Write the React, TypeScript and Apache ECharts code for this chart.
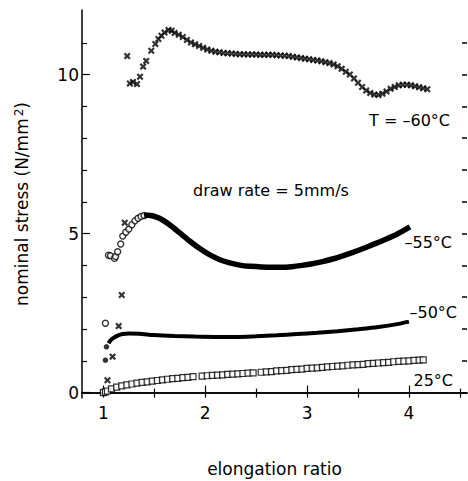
import React, { useEffect, useRef } from "react";
import * as echarts from "echarts";

// ---- axis ranges & ticks ----
const X_MIN = 0.79;
const X_MAX = 4.57;
const Y_MIN = -0.17;
const Y_MAX = 12.03;
const xMajor = [1, 2, 3, 4];
const xMinor = [1.5, 2.5, 3.5, 4.5];
const xTop = [1, 1.5, 2, 2.5, 3, 3.5, 4, 4.5];
const yMajor = [0, 5, 10];
const yMinor = [1, 2, 3, 4, 6, 7, 8, 9, 11];
const yAll = [0, 1, 2, 3, 4, 5, 6, 7, 8, 9, 10, 11];

// ---- T = -60 °C (crosses) ----
const t60X = [1.04, 1.09, 1.15, 1.18, 1.21, 1.234, 1.26, 1.29, 1.33, 1.36, 1.39, 1.42, 1.47, 1.51, 1.54, 1.57, 1.6, 1.64, 1.67,
  1.7, 1.74, 1.78, 1.82, 1.86, 1.9, 1.94, 1.98, 2.02, 2.06, 2.1, 2.14, 2.18, 2.22, 2.26, 2.3, 2.34, 2.38, 2.42, 2.46, 2.5,
  2.54, 2.58, 2.62, 2.66, 2.7, 2.74, 2.78, 2.82, 2.86, 2.9, 2.94, 2.98, 3.02, 3.06, 3.1, 3.14, 3.18, 3.22, 3.26, 3.3,
  3.34, 3.38, 3.42, 3.46, 3.5, 3.54, 3.58, 3.62, 3.66, 3.7, 3.74, 3.78, 3.82, 3.86, 3.9, 3.94, 3.98, 4.02, 4.06, 4.1,
  4.14, 4.18];
const t60Y = [0.39, 1.13, 2.09, 3.07, 5.34, 10.58, 9.72, 9.77, 9.7, 9.93, 10.25, 10.43, 10.75, 10.96, 11.12, 11.22, 11.32, 11.4, 11.38,
  11.31, 11.25, 11.18, 11.09, 11.01, 10.95, 10.9, 10.84, 10.79, 10.75, 10.72, 10.7, 10.68, 10.67, 10.66, 10.65, 10.64, 10.64, 10.63, 10.63, 10.63,
  10.62, 10.62, 10.62, 10.62, 10.61, 10.6, 10.59, 10.58, 10.56, 10.54, 10.52, 10.5, 10.48, 10.46, 10.44, 10.42, 10.39, 10.36, 10.32, 10.26,
  10.18, 10.09, 10.0, 9.88, 9.74, 9.61, 9.5, 9.42, 9.37, 9.36, 9.4, 9.47, 9.55, 9.61, 9.66, 9.68, 9.68, 9.66, 9.63, 9.6,
  9.57, 9.54];

// ---- -55 °C (open circles, sparse start + dense band) ----
const t55CircX = [1.02, 1.05, 1.07, 1.11, 1.12, 1.14, 1.17, 1.19, 1.22, 1.25, 1.28, 1.31, 1.34, 1.37, 1.4];
const t55CircY = [2.18, 4.32, 4.3, 4.22, 4.28, 4.43, 4.67, 4.92, 5.04, 5.14, 5.28, 5.4, 5.48, 5.54, 5.57];
const t55BandX = [1.4, 1.44, 1.48, 1.55, 1.65, 1.75, 1.85, 1.95, 2.05, 2.15, 2.25, 2.35, 2.45, 2.55, 2.65, 2.75, 2.85, 2.95,
  3.05, 3.15, 3.25, 3.35, 3.45, 3.55, 3.65, 3.75, 3.85, 3.95, 4.01];
const t55BandY = [5.57, 5.58, 5.56, 5.48, 5.28, 5.02, 4.76, 4.52, 4.32, 4.17, 4.07, 4.0, 3.97, 3.95, 3.94, 3.94, 3.96, 4.0,
  4.05, 4.12, 4.2, 4.3, 4.41, 4.53, 4.66, 4.79, 4.93, 5.1, 5.21];

// ---- -50 °C (filled dots, sparse start + dense band) ----
const t50DotX = [1.02, 1.03];
const t50DotY = [1.02, 1.44];
const t50BandX = [1.05, 1.07, 1.1, 1.14, 1.19, 1.25, 1.35, 1.5, 1.7, 1.9, 2.1, 2.3, 2.5, 2.7, 2.9, 3.1, 3.3, 3.5, 3.7, 3.9, 4.0];
const t50BandY = [1.55, 1.64, 1.72, 1.79, 1.84, 1.86, 1.85, 1.81, 1.78, 1.76, 1.75, 1.75, 1.77, 1.8, 1.84, 1.88, 1.93, 1.99, 2.06, 2.16, 2.23];

// ---- 25 °C (open squares) ----
const t25X = [1.0, 1.02, 1.04, 1.08, 1.13, 1.18, 1.23, 1.28, 1.33, 1.38, 1.43, 1.48, 1.53, 1.58, 1.63, 1.68, 1.73, 1.78, 1.83, 1.88,
  1.97, 2.02, 2.07, 2.12, 2.17, 2.22, 2.27, 2.32, 2.37, 2.42, 2.47, 2.55, 2.6, 2.65, 2.7, 2.75, 2.8, 2.85, 2.9, 2.95,
  3.0, 3.05, 3.1, 3.15, 3.2, 3.25, 3.3, 3.35, 3.4, 3.45, 3.5, 3.55, 3.6, 3.65, 3.7, 3.75, 3.8, 3.85, 3.9, 3.95,
  4.0, 4.05, 4.1, 4.14];
const t25Y = [0.0, 0.02, 0.05, 0.12, 0.17, 0.21, 0.24, 0.27, 0.3, 0.32, 0.34, 0.36, 0.38, 0.4, 0.42, 0.44, 0.45, 0.47, 0.48, 0.5,
  0.52, 0.53, 0.54, 0.55, 0.56, 0.57, 0.58, 0.59, 0.6, 0.61, 0.62, 0.64, 0.65, 0.66, 0.68, 0.69, 0.7, 0.72, 0.73, 0.74,
  0.76, 0.77, 0.78, 0.79, 0.81, 0.82, 0.83, 0.84, 0.86, 0.87, 0.88, 0.89, 0.91, 0.92, 0.93, 0.94, 0.95, 0.97, 0.98, 0.99,
  1.0, 1.01, 1.02, 1.03];

// ---- texts ----
const xTitle = "elongation ratio";
const yTitleMain = "nominal stress (N/mm";
const yTitleSup = "2";
const labels = ["T = –60°C", "–55°C", "–50°C", "25°C"];
const rateText = "draw rate = 5mm/s";

const FONT = "DejaVu Sans";
const pairs = (xs: number[], ys: number[]) => xs.map((x, i) => [x, ys[i]]);
const crossPath = "path://M0,2.2L2.2,0L5,2.8L7.8,0L10,2.2L7.2,5L10,7.8L7.8,10L5,7.2L2.2,10L0,7.8L2.8,5Z";

export default function App() {
  const ref = useRef<HTMLDivElement>(null);
  useEffect(() => {
    if (!ref.current) return;
    const chart = echarts.init(ref.current, null, { renderer: "svg" });
    const black = "#000";
    const tickAxisBase = (min: number, max: number) => ({
      type: "value",
      min,
      max,
      splitLine: { show: false },
    });
    const option: any = {
      animation: false,
      backgroundColor: "#fff",
      textStyle: { fontFamily: FONT },
      grid: { left: 82, right: 1, top: 10, bottom: 83, containLabel: false, outerBoundsMode: "none" },
      xAxis: [
        {
          ...tickAxisBase(X_MIN, X_MAX),
          position: "bottom",
          axisLine: { show: true, lineStyle: { color: black, width: 1.5 } },
          axisTick: { show: true, inside: true, length: 7, customValues: xMajor, lineStyle: { color: black, width: 1.2 } },
          axisLabel: { show: true, customValues: xMajor, color: black, fontSize: 17, margin: 6, fontFamily: FONT },
          name: xTitle,
          nameLocation: "middle",
          nameGap: 62,
          nameTextStyle: { color: black, fontSize: 17, fontFamily: FONT },
        },
        {
          ...tickAxisBase(X_MIN, X_MAX),
          position: "bottom",
          axisLine: { show: false },
          axisTick: { show: true, inside: true, length: 4, customValues: xMinor, lineStyle: { color: black, width: 1.2 } },
          axisLabel: { show: false },
        },
        {
          ...tickAxisBase(X_MIN, X_MAX),
          position: "top",
          axisLine: { show: true, lineStyle: { color: black, width: 1.5 } },
          axisTick: { show: true, inside: true, length: 5, customValues: xTop, lineStyle: { color: black, width: 1.2 } },
          axisLabel: { show: false },
        },
      ],
      yAxis: [
        {
          ...tickAxisBase(Y_MIN, Y_MAX),
          position: "left",
          axisLine: { show: true, lineStyle: { color: black, width: 1.5 } },
          axisTick: { show: true, inside: true, length: 8, customValues: yMajor, lineStyle: { color: black, width: 1.2 } },
          axisLabel: { show: true, customValues: yMajor, color: black, fontSize: 17, margin: 3, fontFamily: FONT },
          name: `{a|${yTitleMain}}{s|${yTitleSup}}{a|)}`,
          nameLocation: "middle",
          nameGap: 52,
          nameRotate: 90,
          nameTextStyle: {
            color: black,
            fontFamily: FONT,
            rich: {
              a: { fontSize: 17, lineHeight: 17, verticalAlign: "bottom", color: black, fontFamily: FONT },
              s: { fontSize: 12, lineHeight: 12, verticalAlign: "top", padding: [0, 0, 10, 2], color: black, fontFamily: FONT },
            },
          },
        },
        {
          ...tickAxisBase(Y_MIN, Y_MAX),
          position: "left",
          axisLine: { show: false },
          axisTick: { show: true, inside: true, length: 5, customValues: yMinor, lineStyle: { color: black, width: 1.2 } },
          axisLabel: { show: false },
        },
        {
          ...tickAxisBase(Y_MIN, Y_MAX),
          position: "right",
          axisLine: { show: false },
          axisTick: { show: true, inside: true, length: 5, customValues: yAll, lineStyle: { color: black, width: 1.5 } },
          axisLabel: { show: false },
        },
      ],
      series: [
        {
          type: "scatter",
          name: labels[0],
          data: pairs(t60X, t60Y),
          symbol: crossPath,
          symbolSize: 7,
          itemStyle: { color: black },
        },
        {
          type: "line",
          name: labels[1] + " band",
          data: pairs(t55BandX, t55BandY),
          showSymbol: false,
          smooth: 0.3,
          lineStyle: { color: black, width: 5.5 },
        },
        {
          type: "scatter",
          name: labels[1],
          data: pairs(t55CircX, t55CircY),
          symbol: "circle",
          symbolSize: 6,
          itemStyle: { color: "#fff", borderColor: black, borderWidth: 1.4 },
        },
        {
          type: "line",
          name: labels[2] + " band",
          data: pairs(t50BandX, t50BandY),
          showSymbol: false,
          smooth: 0.3,
          lineStyle: { color: black, width: 4 },
        },
        {
          type: "scatter",
          name: labels[2],
          data: pairs(t50DotX, t50DotY),
          symbol: "circle",
          symbolSize: 5.5,
          itemStyle: { color: black },
        },
        {
          type: "scatter",
          name: labels[3],
          data: pairs(t25X, t25Y),
          symbol: "rect",
          symbolSize: 6,
          itemStyle: { color: "#fff", borderColor: black, borderWidth: 1.2 },
        },
      ],
      graphic: [
        { type: "text", x: 450, y: 120, style: { text: labels[0], fill: black, font: `16px "${FONT}"`, textAlign: "right", textVerticalAlign: "middle" } },
        { type: "text", x: 452, y: 242, style: { text: labels[1], fill: black, font: `16px "${FONT}"`, textAlign: "right", textVerticalAlign: "middle" } },
        { type: "text", x: 457, y: 312, style: { text: labels[2], fill: black, font: `16px "${FONT}"`, textAlign: "right", textVerticalAlign: "middle" } },
        { type: "text", x: 453, y: 380, style: { text: labels[3], fill: black, font: `16px "${FONT}"`, textAlign: "right", textVerticalAlign: "middle" } },
        { type: "text", x: 193, y: 190, style: { text: rateText, fill: black, font: `16px "${FONT}"`, textAlign: "left", textVerticalAlign: "middle" } },
      ],
    };
    chart.setOption(option);
    return () => chart.dispose();
  }, []);
  return (
    <div
      ref={ref}
      style={{ position: "fixed", left: 0, top: 0, width: 468, height: 481, background: "#fff" }}
    />
  );
}
